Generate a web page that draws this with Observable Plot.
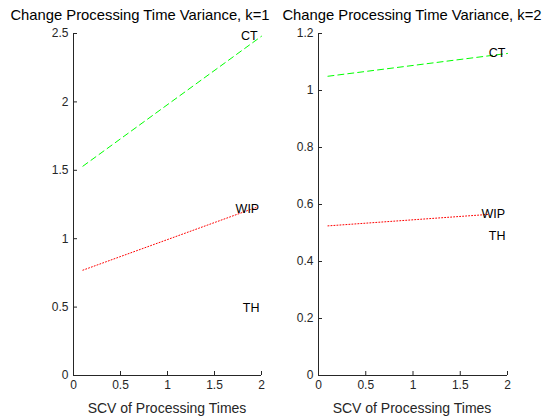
<!DOCTYPE html>
<html><head>
<script src="https://cdn.jsdelivr.net/npm/d3@7"></script>
<script src="https://cdn.jsdelivr.net/npm/@observablehq/plot@0.6"></script>
<style>
body{margin:0;background:#fff;font-family:"Liberation Sans",Arial,sans-serif}
#c{position:relative;width:560px;height:420px;overflow:hidden}
.p{position:absolute;top:0}
.t{position:absolute;top:7px;font-size:14.8px;color:#000;white-space:nowrap;transform:translateX(-50%)}
.xl{position:absolute;top:400px;font-size:14px;color:#262626;white-space:nowrap;transform:translateX(-50%)}
</style></head><body>
<div id="c"></div>
<script>
const titles = ["Change Processing Time Variance, k=1", "Change Processing Time Variance, k=2"];
const xLabel = "SCV of Processing Times";
// left panel (k=1)
const ct1 = [{x:0.1,y:1.53},{x:2.0,y:2.48}];
const wip1 = [{x:0.1,y:0.77},{x:1.95,y:1.23}];
const labels1 = [{x:1.87,y:2.48,t:"CT"},{x:1.85,y:1.22,t:"WIP"},{x:1.89,y:0.49,t:"TH"}];
// right panel (k=2)
const ct2 = [{x:0.1,y:1.05},{x:2.0,y:1.13}];
const wip2 = [{x:0.1,y:0.525},{x:1.79,y:0.565}];
const labels2 = [{x:1.89,y:1.13,t:"CT"},{x:1.85,y:0.565,t:"WIP"},{x:1.89,y:0.49,t:"TH"}];
const yTicks1 = [0,0.5,1,1.5,2,2.5];
const yTicks2 = [0,0.2,0.4,0.6,0.8,1,1.2];
const xTicks = [0,0.5,1,1.5,2];

function panel(ct, wip, labels, yMax, yTicks, ml, mr){
  return Plot.plot({
    width:280, height:420, marginLeft:ml, marginRight:mr, marginTop:33, marginBottom:45,
    style:{fontSize:"12px", fontFamily:"Liberation Sans, Arial, sans-serif", color:"#262626", overflow:"visible"},
    x:{domain:[0,2], ticks:xTicks, tickFormat:d=>String(d), label:null},
    y:{domain:[0,yMax], ticks:yTicks, tickFormat:d=>String(d), label:null},
    marks:[
      Plot.axisX({ticks:xTicks, tickSize:-4, tickPadding:9, tickFormat:d=>String(d), label:null, fontSize:12}),
      Plot.axisY({ticks:yTicks, tickSize:-4, tickPadding:9, tickFormat:d=>String(d), label:null, fontSize:12}),
      Plot.ruleX([0],{stroke:"#262626"}),
      Plot.ruleY([0],{stroke:"#262626"}),
      Plot.line(ct,{x:"x",y:"y",stroke:"#00ff00",strokeDasharray:"6,4",strokeWidth:1}),
      Plot.line(wip,{x:"x",y:"y",stroke:"#ff0000",strokeDasharray:"1,2",strokeWidth:1}),
      Plot.text(labels,{x:"x",y:"y",text:"t",fill:"#000",fontSize:12.5})
    ]
  });
}
const c = document.getElementById("c");
const p1 = panel(ct1, wip1, labels1, 2.5, yTicks1, 73, 19);
p1.classList.add("p"); p1.style.left="0px"; c.appendChild(p1);
const p2 = panel(ct2, wip2, labels2, 1.2, yTicks2, 38, 53);
p2.classList.add("p"); p2.style.left="280px"; c.appendChild(p2);
[[140,titles[0]],[412,titles[1]]].forEach(([x,t])=>{const d=document.createElement("div");d.className="t";d.style.left=x+"px";d.textContent=t;c.appendChild(d);});
[[167,xLabel],[412,xLabel]].forEach(([x,t])=>{const d=document.createElement("div");d.className="xl";d.style.left=x+"px";d.textContent=t;c.appendChild(d);});
</script></body></html>
